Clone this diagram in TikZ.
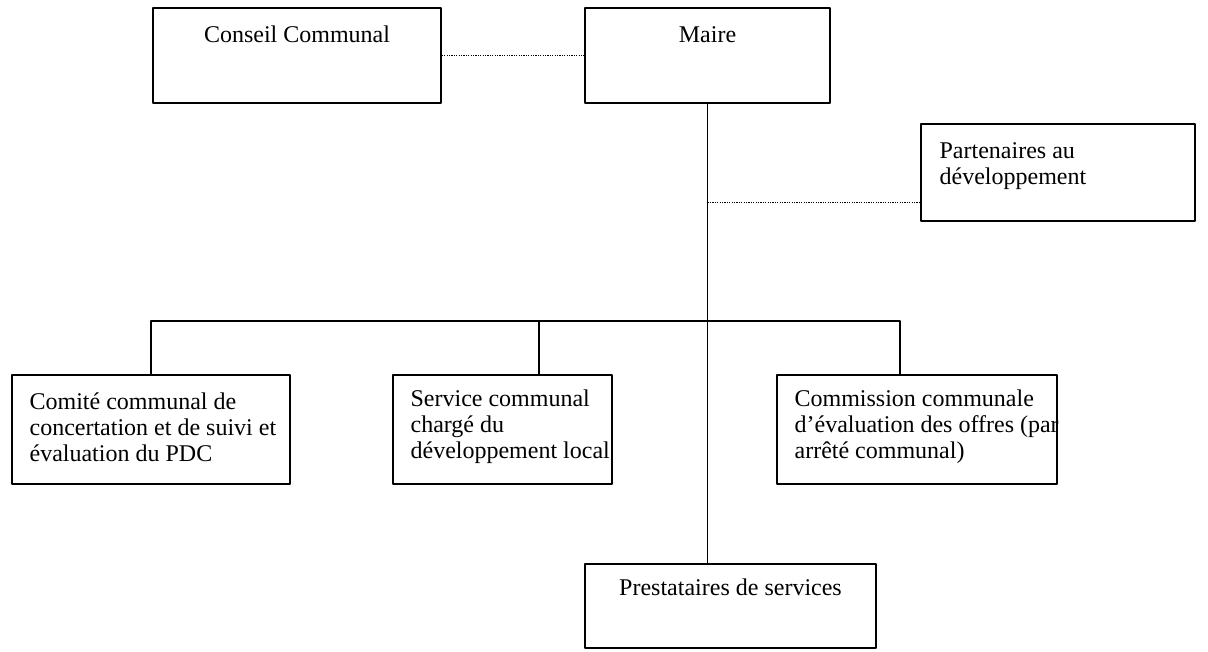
\documentclass[tikz,border=0pt]{standalone}
\usepackage{fontspec}
\setmainfont{Liberation Serif}
\begin{document}
\begin{tikzpicture}[x=1pt,y=-1pt,line join=round,font=\fontsize{12}{13}\selectfont,
	box/.style={draw,line width=0.8pt,inner sep=0pt},
	txt/.style={align=left,inner sep=0pt},
	link/.style={line width=0.8pt},
	dots/.style={line width=0.6pt,dash pattern=on 0.6pt off 0.6pt}]
	\useasboundingbox (0,0) rectangle (604,326);
	% les cadres
	\node[box,minimum width=144pt,minimum height=47.5pt] (conseil) at (148.5,27.75) {};
	\node[box,minimum width=122.5pt,minimum height=47.5pt] (maire) at (353.75,27.75) {};
	\node[box,minimum width=137pt,minimum height=48.5pt] (partenaires) at (529,86.25) {};
	\node[box,minimum width=139pt,minimum height=54.5pt] (comite) at (75.5,214.75) {};
	\node[box,minimum width=109.5pt,minimum height=54.5pt] (service) at (251.25,214.75) {};
	\node[box,minimum width=140pt,minimum height=54.5pt] (commission) at (458.5,214.75) {};
	\node[box,minimum width=145.5pt,minimum height=42pt] (prest) at (365.25,303) {};
	% les textes
	\node[txt,anchor=base] (conseil-t) at ([yshift=-17.5pt]conseil.north) {Conseil Communal};
	\node[txt,anchor=base] (maire-t) at ([yshift=-17.5pt]maire.north) {Maire};
	\node[txt,anchor=west] (partenaires-t) at ([xshift=9.5pt,yshift=3.25pt]partenaires.west) {Partenaires au\\d\'eveloppement};
	\node[txt,anchor=west] (comite-t) at ([xshift=9pt,yshift=1.25pt]comite.west) {Comit\'e communal de\\concertation et de suivi et\\\'evaluation du PDC};
	\node[txt,anchor=west] (service-t) at ([xshift=9pt,yshift=1.25pt]service.west) {Service communal\\charg\'e du\\d\'eveloppement local};
	\node[txt,anchor=west] (commission-t) at ([xshift=9pt,yshift=1.25pt]commission.west) {Commission communale\\d'\'evaluation des offres (par\\arr\^et\'e communal)};
	\node[txt,anchor=base] (prest-t) at ([yshift=-16pt]prest.north) {Prestataires de services};
	% les liaisons
	\coordinate (bus) at (353.75,160.5);
	\coordinate (partenaires-in) at ([yshift=9.5pt]partenaires.south west);
	\coordinate (service-in) at ([xshift=18.25pt]service.north);
	\coordinate (commission-in) at ([xshift=-8.5pt]commission.north);
	\draw[dots] (conseil.east) -- (maire.west);
	\draw[link] (maire.south) -- (maire.south |- prest.north);
	\draw[dots] (maire.south |- partenaires-in) -- (partenaires-in);
	\draw[link] (comite.north) |- (bus) -| (commission-in);
	\draw[link] (service-in) -- (service-in |- bus);
\end{tikzpicture}
\end{document}
